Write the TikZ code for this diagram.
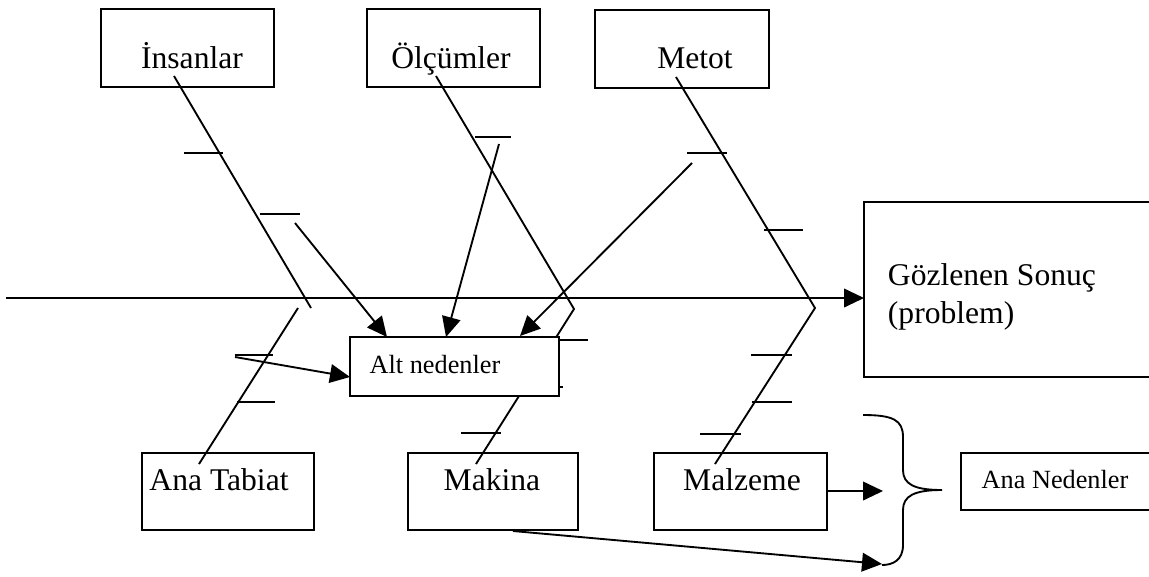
\documentclass[tikz,border=0pt]{standalone}
\usepackage{fontspec}
\setmainfont{Liberation Serif}
\usetikzlibrary{arrows.meta,fit}
\begin{document}
\begin{tikzpicture}[x=0.75pt,y=-0.75pt,
  line width=1.4pt,
  box/.style={draw,inner sep=0pt,fill=white},
  lbl/.style={inner sep=0pt,anchor=base,font=\fontsize{23.7}{28}\selectfont},
  slbl/.style={inner sep=0pt,anchor=base,font=\fontsize{19.7}{24}\selectfont},
  bone/.style={line width=1.4pt},
  tick/.style={line width=1.4pt},
  arr/.style={-{Triangle[length=15pt,width=14pt]}}]
\useasboundingbox (0,0) rectangle (1149,576);

% --- end points of the bones and arrows ---
\coordinate (insTop) at (174,76);
\coordinate (insEnd) at (311,308);
\coordinate (olcTop) at (436,76);
\coordinate (metTop) at (676,77);
\coordinate (kinkL) at (574,309);
\coordinate (kinkR) at (815,308);
\coordinate (anaTop) at (199,464);
\coordinate (anaEnd) at (298,308);
\coordinate (makTop) at (476,464);
\coordinate (malTop) at (715,464);

% --- bones (drawn first, the sub-cause box covers them) ---
\draw[bone] (insTop) -- (insEnd);
\draw[bone] (olcTop) -- (kinkL) -- (makTop);
\draw[bone] (metTop) -- (kinkR) -- (malTop);
\draw[bone] (anaTop) -- (anaEnd);

% --- ticks on the bones ---
\draw[tick] (184,153) -- (223,153);
\draw[tick] (260,214) -- (300,214);
\draw[tick] (475,137) -- (511,137);
\draw[tick] (687,153) -- (727,153);
\draw[tick] (764,230) -- (803,230);
\draw[tick] (235,355) -- (273,355);
\draw[tick] (237,402) -- (275,402);
\draw[tick] (461,433) -- (501,433);
\draw[tick] (550,340) -- (588,340);
\draw[tick] (524,387) -- (563,387);
\draw[tick] (751,355) -- (792,355);
\draw[tick] (752,402) -- (792,402);
\draw[tick] (700,434) -- (741,434);

% --- main spine ---
\coordinate (tail) at (6,298);
\coordinate (head) at (864,298);
\draw[arr] (tail) -- (head);

% --- top cause boxes ---
\node[box,fill=none,fit={(101,9) (274,87)}] (ins) {};
\node[lbl] (insT) at (192,68) {İnsanlar};
\node[box,fill=none,fit={(367,9) (540,87)}] (olc) {};
\node[lbl] (olcT) at (451,68) {Ölçümler};
\node[box,fill=none,fit={(595,10) (769,88)}] (met) {};
\node[lbl] (metT) at (695,68) {Metot};

% --- sub-cause box ---
\node[box,fit={(350,337) (559,396)}] (alt) {};
\node[slbl] (altT) at (435,373) {Alt nedenler};

% --- bottom cause boxes ---
\node[box,fill=none,fit={(142,453) (314,530)}] (ana) {};
\node[lbl] (anaT) at (219,490) {Ana Tabiat};
\node[box,fill=none,fit={(408,453) (578,530)}] (mak) {};
\node[lbl] (makT) at (492,490) {Makina};
\node[box,fill=none,fit={(654,453) (827,530)}] (mal) {};
\node[lbl] (malT) at (742,490) {Malzeme};

% --- result box (open to the right) ---
\draw (1149,202) -- (864,202) -- (864,377) -- (1149,377);
\node[lbl,anchor=base west] (gozT) at (887,285) {Gözlenen Sonuç};
\node[lbl,anchor=base west] (gozT2) at (887,323) {(problem)};

% --- main causes label box (open to the right) ---
\draw (1149,453) -- (961,453) -- (961,510) -- (1149,510);
\node[slbl] (nedT) at (1055,488) {Ana Nedenler};

% --- arrows into the sub-cause box ---
\coordinate (a1s) at (295,223);
\coordinate (a1e) at (387,337);
\coordinate (a2s) at (499,144);
\coordinate (a2e) at (446,337);
\coordinate (a3s) at (692,163);
\coordinate (a3e) at (520,336);
\coordinate (a4s) at (235,357);
\coordinate (a4e) at (350,377);
\draw[arr] (a1s) -- (a1e);
\draw[arr] (a2s) -- (a2e);
\draw[arr] (a3s) -- (a3e);
\draw[arr] (a4s) -- (a4e);

% --- arrows to the brace ---
\coordinate (b1e) at (883,491);
\coordinate (b2s) at (513,531);
\coordinate (b2e) at (882,564);
\draw[arr] (mal.east |- b1e) -- (b1e);
\draw[arr] (b2s) -- (b2e);

% --- curly brace ---
\coordinate (brTip) at (942,490);
\draw (863,415) .. controls (893,415) and (903,420) .. (903,437)
  -- (903,470) .. controls (903,484) and (914,490) .. (brTip)
  .. controls (914,490) and (903,496) .. (903,510)
  -- (903,545) .. controls (903,560) and (893,565) .. (882,565);
\end{tikzpicture}
\end{document}
